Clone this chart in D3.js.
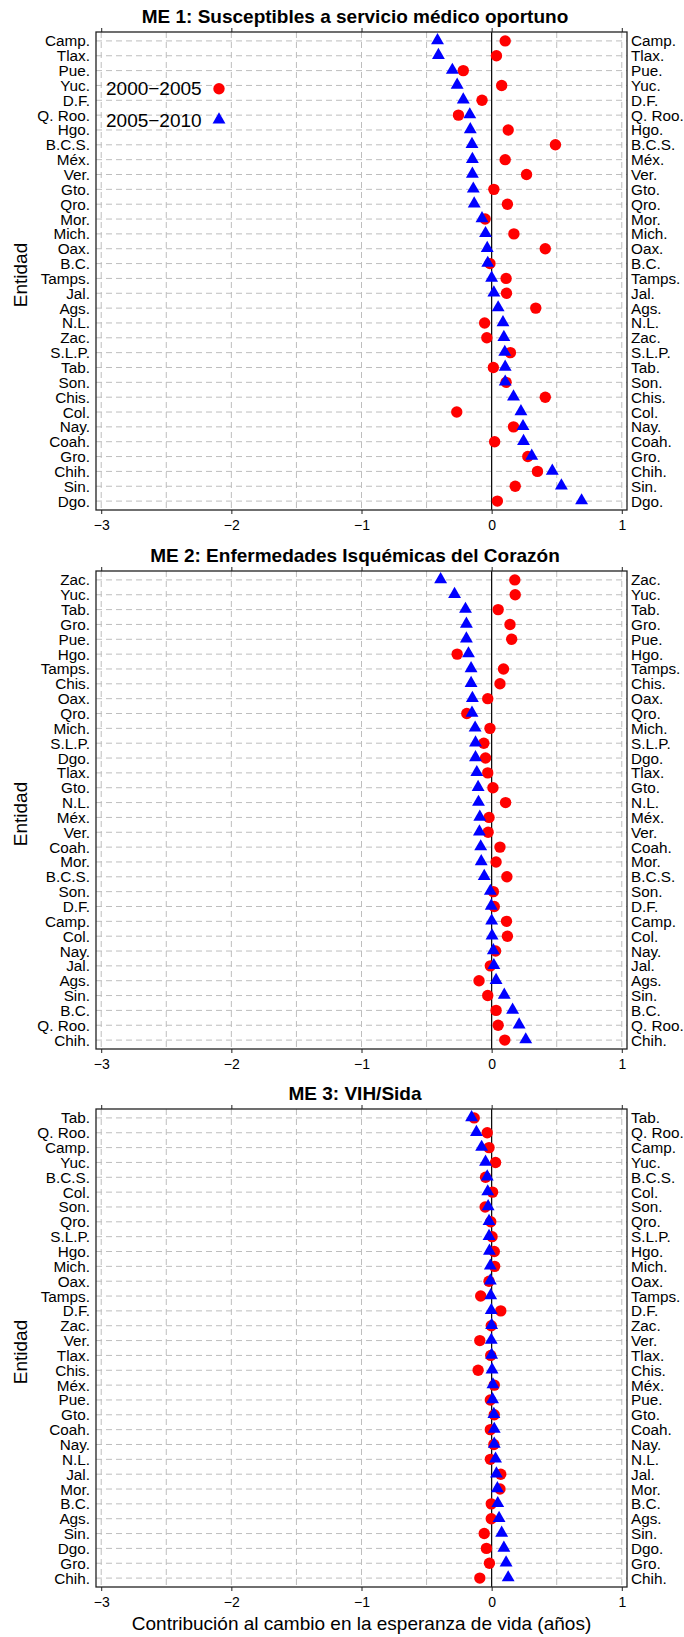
<!DOCTYPE html>
<html lang="es">

<head>
    <meta charset="UTF-8">
    <title>Contribución al cambio en la esperanza de vida</title>
    <script src="https://d3js.org/d3.v7.min.js"></script>
    <style>
        body { margin: 0; background: #fff; }
        text { font-family: "Liberation Sans", Arial, Helvetica, sans-serif; fill: #000; }
    </style>
</head>

<body>
    <svg id="chart"></svg>

    <script>
        // ME 1 (order top -> bottom)
        var me1Title = "ME 1: Susceptibles a servicio médico oportuno";
        var me1States = ["Camp.", "Tlax.", "Pue.", "Yuc.", "D.F.", "Q. Roo.", "Hgo.", "B.C.S.", "Méx.", "Ver.", "Gto.", "Qro.", "Mor.", "Mich.", "Oax.", "B.C.",
            "Tamps.", "Jal.", "Ags.", "N.L.", "Zac.", "S.L.P.", "Tab.", "Son.", "Chis.", "Col.", "Nay.", "Coah.", "Gro.", "Chih.", "Sin.", "Dgo."];
        var me1P1 = [0.104, 0.037, -0.218, 0.077, -0.074, -0.255, 0.127, 0.490, 0.104, 0.268, 0.017, 0.121, -0.050, 0.171, 0.412, -0.013,
            0.111, 0.114, 0.339, -0.054, -0.037, 0.144, 0.013, 0.111, 0.412, -0.268, 0.168, 0.023, 0.278, 0.352, 0.181, 0.044];
        var me1P2 = [-0.416, -0.409, -0.302, -0.265, -0.218, -0.168, -0.164, -0.151, -0.148, -0.148, -0.141, -0.134, -0.074, -0.047, -0.034, -0.030,
            0.000, 0.017, 0.050, 0.087, 0.094, 0.101, 0.104, 0.104, 0.168, 0.225, 0.241, 0.245, 0.308, 0.466, 0.536, 0.691];

        // ME 2
        var me2Title = "ME 2: Enfermedades Isquémicas del Corazón";
        var me2States = ["Zac.", "Yuc.", "Tab.", "Gro.", "Pue.", "Hgo.", "Tamps.", "Chis.", "Oax.", "Qro.", "Mich.", "S.L.P.", "Dgo.", "Tlax.", "Gto.", "N.L.",
            "Méx.", "Ver.", "Coah.", "Mor.", "B.C.S.", "Son.", "D.F.", "Camp.", "Col.", "Nay.", "Jal.", "Ags.", "Sin.", "B.C.", "Q. Roo.", "Chih."];
        var me2P1 = [0.178, 0.181, 0.050, 0.141, 0.154, -0.265, 0.091, 0.064, -0.030, -0.191, -0.013, -0.060, -0.047, -0.030, 0.010, 0.107,
            -0.020, -0.027, 0.064, 0.034, 0.117, 0.013, 0.020, 0.114, 0.121, 0.030, -0.010, -0.097, -0.030, 0.034, 0.050, 0.101];
        var me2P2 = [-0.392, -0.285, -0.201, -0.194, -0.194, -0.178, -0.158, -0.158, -0.148, -0.151, -0.127, -0.124, -0.124, -0.114, -0.104, -0.101,
            -0.091, -0.094, -0.084, -0.080, -0.057, -0.010, -0.003, 0.000, 0.003, 0.013, 0.017, 0.034, 0.097, 0.161, 0.211, 0.262];

        // ME 3
        var me3Title = "ME 3: VIH/Sida";
        var me3States = ["Tab.", "Q. Roo.", "Camp.", "Yuc.", "B.C.S.", "Col.", "Son.", "Qro.", "S.L.P.", "Hgo.", "Mich.", "Oax.", "Tamps.", "D.F.", "Zac.", "Ver.",
            "Tlax.", "Chis.", "Méx.", "Pue.", "Gto.", "Coah.", "Nay.", "N.L.", "Jal.", "Mor.", "B.C.", "Ags.", "Sin.", "Dgo.", "Gro.", "Chih."];
        var me3P1 = [-0.134, -0.034, -0.020, 0.030, -0.047, 0.007, -0.050, -0.007, 0.003, 0.020, 0.023, -0.020, -0.084, 0.070, -0.003, -0.091,
            -0.007, -0.104, 0.020, -0.010, 0.020, -0.010, 0.017, -0.010, 0.070, 0.064, -0.003, -0.003, -0.057, -0.040, -0.017, -0.091];
        var me3P2 = [-0.154, -0.117, -0.077, -0.047, -0.034, -0.030, -0.027, -0.020, -0.020, -0.017, -0.010, -0.010, -0.007, -0.003, 0.000, -0.003,
            0.000, 0.003, 0.010, 0.007, 0.017, 0.020, 0.020, 0.030, 0.037, 0.044, 0.047, 0.057, 0.077, 0.094, 0.111, 0.127];

        var xTicks = [-3, -2, -1, 0, 1];
        var gridValues = [-3, -2.5, -2, -1.5, -1, -0.5, 0, 0.5, 1];
        var legendLabels = ["2000−2005", "2005−2010"];
        var xTitle = "Contribución al cambio en la esperanza de vida (años)";
        var yTitle = "Entidad";

        var panels = [
            { title: me1Title, states: me1States, p1: me1P1, p2: me1P2 },
            { title: me2Title, states: me2States, p1: me2P1, p2: me2P2 },
            { title: me3Title, states: me3States, p1: me3P1, p2: me3P2 }
        ];

        var width = 684, height = 1637;
        var boxLeft = 96, boxRight = 627;
        var panelTops = [32, 571, 1109], panelH = 478;
        var red = "#ff0000", blue = "#0000ff", gridCol = "#bebebe";

        var svg = d3.select("#chart")
            .attr("width", width)
            .attr("height", height);

        svg.append("rect").attr("width", width).attr("height", height).attr("fill", "#fff");

        var x = d3.scaleLinear()
            .domain([-3.04, 1.04])
            .range([boxLeft, boxRight]);

        var triangle = d3.symbol().type(d3.symbolTriangle).size(72);

        panels.forEach(function (p, i) {
            var top = panelTops[i], bottom = top + panelH;
            var g = svg.append("g");

            // one point per state, top to bottom
            var y = d3.scalePoint()
                .domain(p.states)
                .range([top, bottom])
                .padding(0.6);

            // title
            g.append("text")
                .attr("x", 355)
                .attr("y", top - 15.5)
                .attr("text-anchor", "middle")
                .attr("dominant-baseline", "central")
                .style("font-size", "19px")
                .style("font-weight", "bold")
                .text(p.title);

            // dashed grid: verticals every 0.5, horizontals every row
            g.selectAll(".vgrid")
                .data(gridValues.filter(function (d) { return d !== 0; }))
                .enter()
                .append("line")
                .attr("x1", function (d) { return x(d); })
                .attr("x2", function (d) { return x(d); })
                .attr("y1", top)
                .attr("y2", bottom)
                .attr("stroke", gridCol)
                .attr("stroke-dasharray", "6,4");

            g.selectAll(".hgrid")
                .data(p.states)
                .enter()
                .append("line")
                .attr("x1", boxLeft)
                .attr("x2", boxRight)
                .attr("y1", function (d) { return y(d); })
                .attr("y2", function (d) { return y(d); })
                .attr("stroke", gridCol)
                .attr("stroke-dasharray", "6,4");

            // zero reference line
            g.append("line")
                .attr("x1", x(0)).attr("x2", x(0))
                .attr("y1", top).attr("y2", bottom)
                .attr("stroke", "#000")
                .attr("stroke-width", 1.2);

            // box
            g.append("rect")
                .attr("x", boxLeft)
                .attr("y", top)
                .attr("width", boxRight - boxLeft)
                .attr("height", panelH)
                .attr("fill", "none")
                .attr("stroke", "#222")
                .attr("stroke-width", 1.3);

            // axes
            var axB = g.append("g")
                .attr("transform", "translate(0," + bottom + ")")
                .call(d3.axisBottom(x).tickValues(xTicks).tickSize(4).tickPadding(6).tickFormat(d3.format("d")));
            axB.select(".domain").remove();
            axB.selectAll("text").style("font-size", "14px");
            axB.selectAll("line").attr("stroke", "#222");

            var axT = g.append("g")
                .attr("transform", "translate(0," + top + ")")
                .call(d3.axisTop(x).tickValues(xTicks).tickSize(4).tickFormat(""));
            axT.select(".domain").remove();
            axT.selectAll("line").attr("stroke", "#222");

            // state labels on both sides
            g.selectAll(".lab-left")
                .data(p.states)
                .enter()
                .append("text")
                .attr("x", boxLeft - 6)
                .attr("y", function (d) { return y(d); })
                .attr("text-anchor", "end")
                .attr("dominant-baseline", "central")
                .style("font-size", "15.3px")
                .text(function (d) { return d; });

            g.selectAll(".lab-right")
                .data(p.states)
                .enter()
                .append("text")
                .attr("x", boxRight + 4)
                .attr("y", function (d) { return y(d); })
                .attr("dominant-baseline", "central")
                .style("font-size", "15.3px")
                .text(function (d) { return d; });

            // y title
            g.append("text")
                .attr("transform", "translate(20," + (top + panelH / 2 + 4) + ") rotate(-90)")
                .attr("text-anchor", "middle")
                .attr("dominant-baseline", "central")
                .style("font-size", "19px")
                .text(yTitle);

            // 2000-2005 circles first, 2005-2010 triangles on top
            g.selectAll(".p1")
                .data(p.states)
                .enter()
                .append("circle")
                .attr("cx", function (d, j) { return x(p.p1[j]); })
                .attr("cy", function (d) { return y(d); })
                .attr("r", 5.7)
                .attr("fill", red);

            g.selectAll(".p2")
                .data(p.states)
                .enter()
                .append("path")
                .attr("d", triangle)
                .attr("transform", function (d, j) { return "translate(" + x(p.p2[j]) + "," + (y(d) - 0.5) + ")"; })
                .attr("fill", blue);

            // legend only in the first panel
            if (i === 0) {
                var leg = g.selectAll(".legend")
                    .data(legendLabels)
                    .enter()
                    .append("g")
                    .attr("transform", function (d, k) { return "translate(0," + (88.7 + k * 32) + ")"; });
                leg.append("text")
                    .attr("x", 106)
                    .attr("dominant-baseline", "central")
                    .style("font-size", "19px")
                    .text(function (d) { return d; });
                leg.filter(function (d, k) { return k === 0; })
                    .append("circle")
                    .attr("cx", 219)
                    .attr("r", 5.7)
                    .attr("fill", red);
                leg.filter(function (d, k) { return k === 1; })
                    .append("path")
                    .attr("d", triangle)
                    .attr("transform", "translate(219,-1)")
                    .attr("fill", blue);
            }
        });

        // x title
        svg.append("text")
            .attr("x", 361.5)
            .attr("y", 1623.3)
            .attr("text-anchor", "middle")
            .attr("dominant-baseline", "central")
            .style("font-size", "19px")
            .text(xTitle);
    </script>
</body>

</html>
